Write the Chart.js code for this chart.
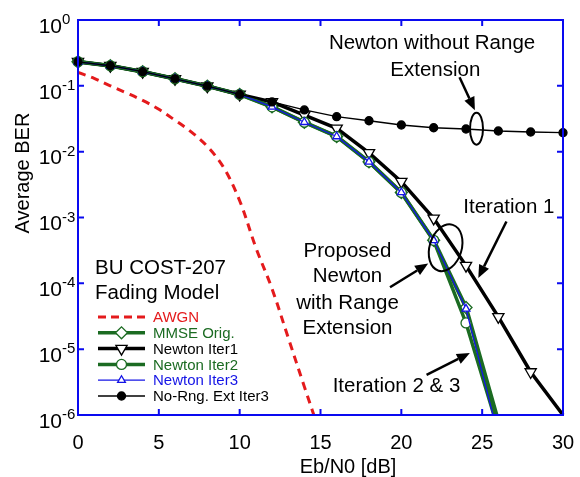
<!DOCTYPE html>
<html>
<head>
<meta charset="utf-8">
<script src="https://cdn.jsdelivr.net/npm/chart.js@4.4.0/dist/chart.umd.min.js"></script>
<style>
html, body { margin: 0; padding: 0; background: #fff; }
</style>
</head>
<body>
<canvas id="berChart" width="580" height="477"></canvas>
<script>
// Eb/N0 points (dB) used for the simulated curves
var snr = [0, 2, 4, 6, 8, 10, 12, 14, 16, 18, 20, 22, 24, 26, 28, 30];
var mmseOrig   = [0.232, 0.202, 0.164, 0.128, 0.099, 0.074, 0.048, 0.028, 0.017, 0.0070, 0.0024, 0.00045, 4.3e-5, 8e-7, null, null];
var newtonIt1  = [0.232, 0.202, 0.164, 0.128, 0.099, 0.074, 0.057, 0.036, 0.0226, 0.0096, 0.0035, 0.00097, 0.000186, 3.1e-5, 4.5e-6, 1e-6];
var newtonIt2  = [0.232, 0.202, 0.164, 0.128, 0.099, 0.074, 0.048, 0.028, 0.017, 0.0070, 0.0024, 0.00045, 2.5e-5, 6e-7, null, null];
var newtonIt3  = [0.232, 0.202, 0.164, 0.128, 0.099, 0.074, 0.048, 0.028, 0.017, 0.0070, 0.0024, 0.00045, 4.1e-5, 4.8e-7, null, null];
var noRngIt3   = [0.232, 0.202, 0.164, 0.128, 0.099, 0.074, 0.057, 0.043, 0.034, 0.0295, 0.0254, 0.0231, 0.0221, 0.0206, 0.0199, 0.0194];

// AWGN reference curve
var awgnSnr = [0, 1, 2, 3, 4, 5, 6, 7, 8, 9, 10, 11, 12, 13, 14, 15];
var awgnBer = [0.16, 0.13, 0.10, 0.078, 0.06, 0.044, 0.030, 0.020, 0.012, 0.0058, 0.0018, 3.5e-4, 8.3e-5, 1.5e-5, 2.7e-6, 5e-7];

var xTicks = [0, 5, 10, 15, 20, 25, 30];
var yTicks = [1, 1e-1, 1e-2, 1e-3, 1e-4, 1e-5, 1e-6];
var yTickExp = ['0', '-1', '-2', '-3', '-4', '-5', '-6'];

var RED = '#e41a1c', GREEN = '#1b6b22', BLUE = '#1414e6', AXIS = '#0a0af0';
var FONT = '"Liberation Sans", Arial, sans-serif';

function pts(xs, ys) {
    var out = [];
    for (var i = 0; i < xs.length; i++) {
        if (ys[i] != null) out.push({x: xs[i], y: ys[i]});
    }
    return out;
}
function hideBelow(r) {
    return function(c) { return c.raw && c.raw.y < 1.01e-6 ? 0 : r; };
}
var clipBox = {left: 8, top: 0, right: 6, bottom: 0};

var frame = {
    id: 'frame',
    afterDraw: function(chart) {
        var ctx = chart.ctx, a = chart.chartArea;
        var xs = chart.scales.x, ys = chart.scales.y;
        function P(xd, yd) { return [xs.getPixelForValue(xd), ys.getPixelForValue(yd)]; }
        ctx.save();

        // box and inward ticks
        ctx.strokeStyle = AXIS;
        ctx.lineWidth = 2;
        ctx.strokeRect(a.left, a.top, a.right - a.left, a.bottom - a.top);
        ctx.beginPath();
        xTicks.forEach(function(v) {
            var px = xs.getPixelForValue(v);
            ctx.moveTo(px, a.bottom); ctx.lineTo(px, a.bottom - 6);
            ctx.moveTo(px, a.top); ctx.lineTo(px, a.top + 6);
        });
        yTicks.forEach(function(v) {
            var py = ys.getPixelForValue(v);
            ctx.moveTo(a.left, py); ctx.lineTo(a.left + 6, py);
            ctx.moveTo(a.right, py); ctx.lineTo(a.right - 6, py);
        });
        ctx.stroke();

        // tick labels
        ctx.fillStyle = '#000';
        ctx.font = '20px ' + FONT;
        ctx.textAlign = 'center';
        ctx.textBaseline = 'middle';
        xTicks.forEach(function(v) {
            ctx.fillText(String(v), xs.getPixelForValue(v), a.bottom + 28);
        });
        yTicks.forEach(function(v, i) {
            var py = ys.getPixelForValue(v);
            ctx.font = '21px ' + FONT;
            ctx.textAlign = 'right';
            ctx.fillText('10', a.left - 16, py + 7);
            ctx.font = '15px ' + FONT;
            ctx.textAlign = 'left';
            ctx.fillText(yTickExp[i], a.left - 16, py);
        });

        // axis titles
        ctx.font = '20px ' + FONT;
        ctx.textAlign = 'center';
        ctx.fillText('Eb/N0 [dB]', 348, a.bottom + 52);
        ctx.save();
        ctx.translate(23, 173);
        ctx.rotate(-Math.PI / 2);
        ctx.fillText('Average BER', 0, 0);
        ctx.restore();

        // annotations
        function arrow(p1, p2) {
            var ang = Math.atan2(p2[1] - p1[1], p2[0] - p1[0]);
            var hl = 13, hw = 5.5;
            var bx = p2[0] - hl * Math.cos(ang), by = p2[1] - hl * Math.sin(ang);
            ctx.strokeStyle = '#000';
            ctx.lineWidth = 2.5;
            ctx.beginPath(); ctx.moveTo(p1[0], p1[1]); ctx.lineTo(bx, by); ctx.stroke();
            ctx.fillStyle = '#000';
            ctx.beginPath();
            ctx.moveTo(p2[0], p2[1]);
            ctx.lineTo(bx + hw * Math.sin(ang), by - hw * Math.cos(ang));
            ctx.lineTo(bx - hw * Math.sin(ang), by + hw * Math.cos(ang));
            ctx.closePath(); ctx.fill();
        }
        function ring(c, rx, ry, rot) {
            ctx.strokeStyle = '#000';
            ctx.lineWidth = 2;
            ctx.beginPath();
            ctx.ellipse(c[0], c[1], rx, ry, rot, 0, Math.PI * 2);
            ctx.stroke();
        }
        ctx.fillStyle = '#000';
        ctx.font = '20.5px ' + FONT;
        ctx.textAlign = 'center';
        var t;
        t = P(21.9, Math.pow(10, -0.35)); ctx.fillText('Newton without Range', t[0], t[1]);
        t = P(22.1, Math.pow(10, -0.76)); ctx.fillText('Extension', t[0], t[1]);
        arrow(P(23.6, Math.pow(10, -0.87)), P(24.55, Math.pow(10, -1.37)));
        ring(P(24.65, Math.pow(10, -1.65)), 6.5, 16, 0);

        ctx.fillStyle = '#000';
        t = P(26.65, Math.pow(10, -2.84)); ctx.fillText('Iteration 1', t[0], t[1]);
        arrow(P(26.5, Math.pow(10, -3.06)), P(24.76, Math.pow(10, -3.92)));

        ctx.fillStyle = '#000';
        t = P(16.67, Math.pow(10, -3.52)); ctx.fillText('Proposed', t[0], t[1]);
        t = P(16.67, Math.pow(10, -3.90)); ctx.fillText('Newton', t[0], t[1]);
        t = P(16.67, Math.pow(10, -4.30)); ctx.fillText('with Range', t[0], t[1]);
        t = P(16.67, Math.pow(10, -4.68)); ctx.fillText('Extension', t[0], t[1]);
        arrow(P(19.3, Math.pow(10, -4.06)), P(21.66, Math.pow(10, -3.70)));
        ring(P(22.74, Math.pow(10, -3.46)), 16, 24, 0.3);

        ctx.fillStyle = '#000';
        t = P(19.7, Math.pow(10, -5.57)); ctx.fillText('Iteration 2 & 3', t[0], t[1]);
        arrow(P(21.56, Math.pow(10, -5.39)), P(24.24, Math.pow(10, -5.06)));

        // in-plot legend
        ctx.fillStyle = '#000';
        ctx.textAlign = 'left';
        ctx.font = '20.5px ' + FONT;
        ctx.fillText('BU COST-207', a.left + 17, 268);
        ctx.fillText('Fading Model', a.left + 17, 293);
        var items = [
            {label: 'AWGN', color: RED, width: 3, dash: [8, 5], style: false},
            {label: 'MMSE Orig.', color: GREEN, width: 3.5, style: 'rectRot', r: 6, fill: '#fff'},
            {label: 'Newton Iter1', color: '#000', width: 3.5, style: 'triangle', rot: 180, r: 6.5, fill: '#fff'},
            {label: 'Newton Iter2', color: GREEN, width: 3.5, style: 'circle', r: 5, fill: '#fff'},
            {label: 'Newton Iter3', color: BLUE, width: 1.3, style: 'triangle', r: 4.5, fill: '#fff'},
            {label: 'No-Rng. Ext Iter3', color: '#000', width: 1.3, style: 'circle', r: 4, fill: '#000'}
        ];
        ctx.font = '15px ' + FONT;
        items.forEach(function(it, i) {
            var y = 317 + i * 15.8, x0 = a.left + 20, x1 = a.left + 67;
            ctx.strokeStyle = it.color;
            ctx.lineWidth = it.width;
            ctx.setLineDash(it.dash || []);
            ctx.beginPath(); ctx.moveTo(x0, y); ctx.lineTo(x1, y); ctx.stroke();
            ctx.setLineDash([]);
            if (it.style) {
                ctx.fillStyle = it.fill;
                ctx.lineWidth = 1.3;
                Chart.helpers.drawPoint(ctx, {pointStyle: it.style, radius: it.r, rotation: it.rot || 0, borderWidth: 1.3}, (x0 + x1) / 2, y);
            }
            ctx.fillStyle = it.color;
            ctx.fillText(it.label, a.left + 75, y + 1);
        });
        ctx.restore();
    }
};

var ctx = document.getElementById('berChart').getContext('2d');
var berChart = new Chart(ctx, {
    type: 'line',
    data: {
        datasets: [{
            label: 'No-Rng. Ext Iter3',
            data: pts(snr, noRngIt3),
            borderColor: '#000',
            backgroundColor: '#000',
            borderWidth: 1.3,
            pointStyle: 'circle',
            pointRadius: 4,
            pointBackgroundColor: '#000',
            clip: clipBox
        }, {
            label: 'Newton Iter3',
            data: pts(snr, newtonIt3),
            borderColor: BLUE,
            borderWidth: 1.3,
            pointStyle: 'triangle',
            pointRadius: hideBelow(4.5),
            pointBorderWidth: 1.3,
            pointBackgroundColor: '#fff',
            clip: clipBox
        }, {
            label: 'Newton Iter2',
            data: pts(snr, newtonIt2),
            borderColor: GREEN,
            borderWidth: 3.5,
            pointStyle: 'circle',
            pointRadius: hideBelow(5),
            pointBorderWidth: 1.3,
            pointBackgroundColor: '#fff',
            clip: clipBox
        }, {
            label: 'Newton Iter1',
            data: pts(snr, newtonIt1),
            borderColor: '#000',
            borderWidth: 3.5,
            pointStyle: 'triangle',
            rotation: 180,
            pointRadius: hideBelow(6.5),
            pointBorderWidth: 1.3,
            pointBackgroundColor: '#fff',
            clip: clipBox
        }, {
            label: 'MMSE Orig.',
            data: pts(snr, mmseOrig),
            borderColor: GREEN,
            borderWidth: 4,
            pointStyle: 'rectRot',
            pointRadius: hideBelow(6),
            pointBorderWidth: 1.3,
            pointBackgroundColor: '#fff',
            clip: clipBox
        }, {
            label: 'AWGN',
            data: pts(awgnSnr, awgnBer),
            borderColor: RED,
            borderWidth: 3,
            borderDash: [8, 6],
            pointRadius: 0,
            tension: 0.35,
            clip: 0
        }]
    },
    options: {
        responsive: false,
        animation: false,
        layout: {
            padding: {left: 78, top: 20, right: 17, bottom: 62}
        },
        plugins: {
            legend: { display: false },
            tooltip: { enabled: false }
        },
        scales: {
            x: { type: 'linear', min: 0, max: 30, display: false },
            y: { type: 'logarithmic', min: 1e-6, max: 1, display: false }
        }
    },
    plugins: [frame]
});
</script>
</body>
</html>
